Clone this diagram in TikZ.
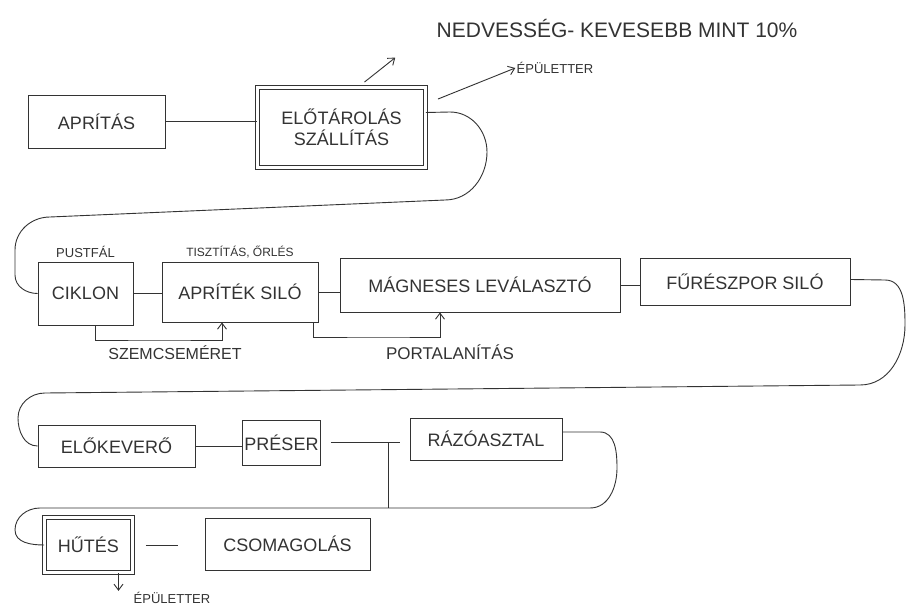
\documentclass[tikz,border=0pt]{standalone}
\usepackage{fontspec}
\setmainfont{Liberation Sans}
\usetikzlibrary{positioning,arrows.meta}

\begin{document}
\begin{tikzpicture}[x=1pt,y=-1pt,line width=0.9pt,color=black!80,>={Straight Barb[length=6pt,width=9pt]},
  box/.style={draw,rectangle,inner sep=2pt,align=center,font=\fontsize{18}{21}\selectfont},
  dbox/.style={box,double,double distance=3pt},
  note/.style={inner sep=1pt,font=\fontsize{13}{15}\selectfont}]
\useasboundingbox[fill=white] (0,0) rectangle (906,610);

% boxes
\node[box,minimum width=137pt,minimum height=53pt] (apritas) at (96.5,121.5) {APRÍTÁS};
\node[dbox,minimum width=168pt,minimum height=80pt] (elotarolas) at (341.5,127.5) {ELŐTÁROLÁS\\SZÁLLÍTÁS};
\node[box,minimum width=95pt,minimum height=63pt] (ciklon) at (85.5,293.5) {CIKLON};
\node[box,minimum width=156pt,minimum height=60pt] (silo) at (240,292) {APRÍTÉK SILÓ};
\node[box,minimum width=280pt,minimum height=54pt] (magneses) at (480,285) {MÁGNESES LEVÁLASZTÓ};
\node[box,minimum width=210pt,minimum height=47pt] (fureszpor) at (745,281.5) {FŰRÉSZPOR SILÓ};
\node[box,minimum width=157pt,minimum height=42pt] (elokevero) at (116.5,446) {ELŐKEVERŐ};
\node[box,minimum width=77pt,minimum height=45pt] (preser) at (281.5,442.5) {PRÉSER};
\node[box,minimum width=152pt,minimum height=42pt] (razo) at (486,439) {RÁZÓASZTAL};
\node[dbox,minimum width=88pt,minimum height=55pt] (hutes) at (88.5,545) {HŰTÉS};
\node[box,minimum width=165pt,minimum height=52pt] (csomag) at (287.5,544) {CSOMAGOLÁS};

% notes
\node[note,font=\fontsize{21}{23}\selectfont] (nedv) at (617,28) {NEDVESSÉG- KEVESEBB MINT 10\%};
\node[note] (epuletA) at (555,68) {ÉPÜLETTER};
\node[note] (pustfal) [above=2pt of ciklon] {PUSTFÁL};
\node[note,font=\fontsize{12}{14}\selectfont] (tisztitas) [above=2pt of silo] {TISZTÍTÁS, ŐRLÉS};
\node[note,font=\fontsize{16}{18}\selectfont] (szem) at (175,353) {SZEMCSEMÉRET};
\node[note,font=\fontsize{17}{19}\selectfont] (port) at (450,352) {PORTALANÍTÁS};
\node[note] (epuletB) at (172,598) {ÉPÜLETTER};

\coordinate (fbA) at (160,340);
\coordinate (fbB) at (380,337);
\coordinate (tee) at (388,442.5);
\coordinate (bot3) at (590,508);

% straight links
\draw (apritas.east) -- (apritas.east -| elotarolas.west);
\draw (ciklon.east) -- (ciklon.east -| silo.west);
\draw (silo.east) -- (silo.east -| magneses.west);
\draw (magneses.east) -- (magneses.east -| fureszpor.west);
\draw (elokevero.east) -- (elokevero.east -| preser.west);
\draw[shorten <=10pt,shorten >=10pt] (preser.east) -- (preser.east -| razo.west);
\draw[shorten <=13pt,shorten >=27pt] (hutes.east) -- (hutes.east -| csomag.west);

% row to row
\draw ([yshift=15pt]elotarolas.east) -- (450,112) to[out=0,in=90] (487,152) to[out=-90,in=0] (445,200)
  -- (50,217) to[out=180,in=90] (15,250) -- (15,275) to[out=-90,in=180] (ciklon.west);
\draw ([yshift=2pt]fureszpor.east) -- (885,280) to[out=0,in=90] (905,325) to[out=-90,in=0] (860,385)
  -- (45,393) to[out=180,in=90] (18,418) to[out=-90,in=180] (elokevero.west);
\draw ([yshift=7pt]razo.east) -- (600,432) to[out=0,in=90] (617,468) to[out=-90,in=0] (bot3)
  -- (40,508) to[out=180,in=90] (15,530) to[out=-90,in=180] (hutes.west);
\draw (tee) -- (tee |- bot3);

% side flows
\draw[->] ([xshift=10pt]ciklon.south) |- (fbA) -| ([xshift=-18pt]silo.south);
\draw[->] ([xshift=-5pt]silo.south east) |- (fbB) -| ([xshift=-40pt]magneses.south);
\draw[->] ([xshift=23pt,yshift=5pt]elotarolas.north) -- ([xshift=-40pt,yshift=-19pt]nedv.south west);
\draw[->] ([xshift=12pt,yshift=-12pt]elotarolas.north east) -- (epuletA.west);
\draw[->] ([xshift=30pt]hutes.south) -- ([xshift=30pt]hutes.south |- epuletB.north);
\end{tikzpicture}
\end{document}
